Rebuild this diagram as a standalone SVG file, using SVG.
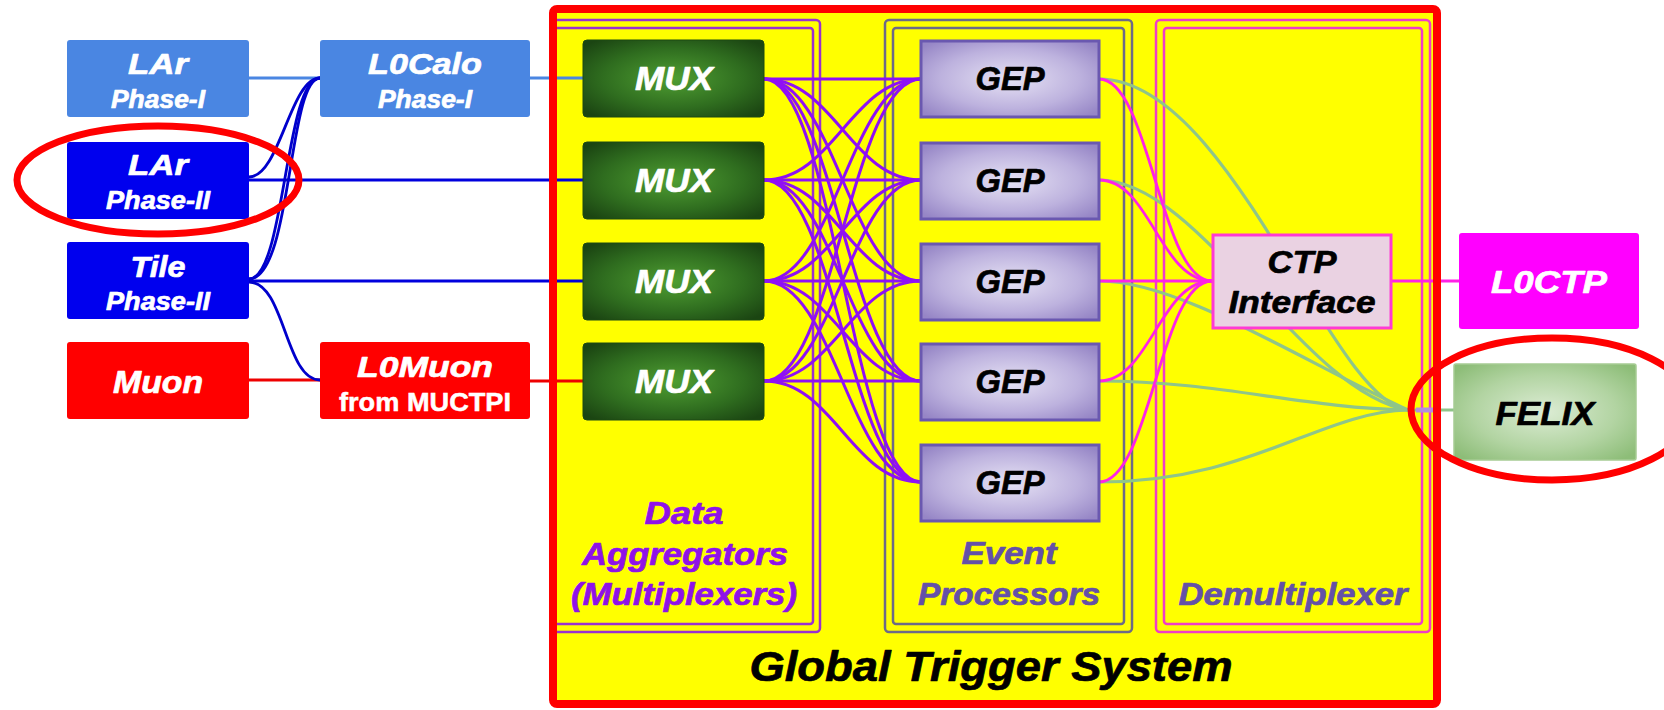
<svg xmlns="http://www.w3.org/2000/svg" width="1664" height="710" viewBox="0 0 1664 710">
<defs>
<radialGradient id="muxG" cx="50%" cy="50%" r="65%">
<stop offset="0" stop-color="#4f9e32"/><stop offset="0.6" stop-color="#2f6d1f"/><stop offset="1" stop-color="#1b4512"/>
</radialGradient>
<radialGradient id="gepG" cx="50%" cy="50%" r="65%">
<stop offset="0" stop-color="#e6e2f4"/><stop offset="0.6" stop-color="#bdb2de"/><stop offset="1" stop-color="#9686c6"/>
</radialGradient>
<radialGradient id="felG" cx="50%" cy="50%" r="65%">
<stop offset="0" stop-color="#dcecd4"/><stop offset="0.6" stop-color="#b2d4a2"/><stop offset="1" stop-color="#8dbd78"/>
</radialGradient>
<style>
.t{font-family:"Liberation Sans",Arial,sans-serif;font-weight:bold;font-style:italic;text-anchor:middle;stroke-width:0.7;stroke-linejoin:round}
.u{font-family:"Liberation Sans",Arial,sans-serif;font-weight:bold;text-anchor:middle;stroke-width:0.5}
.w{fill:#fff;stroke:#fff}.k{fill:#000;stroke:#000}
.pa{fill:#8f12e8;stroke:#8f12e8}.pe{fill:#6450a8;stroke:#6450a8}
.lb{fill:#4a86e2}.db{fill:#0000ee}.rd{fill:#ff0000}
.mux{fill:url(#muxG);stroke:#1d4a13;stroke-width:1}
.gep{fill:url(#gepG);stroke:#6a58b0;stroke-width:3}
.mx{fill:none;stroke:#8f10f5;stroke-width:3}
.gr{fill:none;stroke:#8fc589;stroke-width:3.2}
.mg{fill:none;stroke:#ff22e6;stroke-width:2.8}
.fa{fill:none;stroke:#9a30d0;stroke-width:2.5}
.fe{fill:none;stroke:#6d6a88;stroke-width:2.5}
.fd{fill:none;stroke:#f03cc8;stroke-width:2.5}
.ring{fill:none;stroke:#ff0000;stroke-width:7}
</style>
</defs>
<rect width="1664" height="710" fill="#fff"/>

<g id="global-trigger-system">
<rect x="553" y="9" width="884" height="695" rx="4" fill="#ffff00"/>
<g id="frame-aggregators">
<rect class="fa" x="551" y="20" width="269" height="612" rx="4"/>
<rect class="fa" x="551" y="28" width="262" height="596" rx="3"/>
<text class="t pa" x="684" y="524" font-size="31" textLength="79" lengthAdjust="spacingAndGlyphs">Data</text>
<text class="t pa" x="685" y="565" font-size="31" textLength="206" lengthAdjust="spacingAndGlyphs">Aggregators</text>
<text class="t pa" x="684" y="605" font-size="31" textLength="226" lengthAdjust="spacingAndGlyphs">(Multiplexers)</text>
</g>
<g id="frame-event-processors">
<rect class="fe" x="885" y="20" width="247" height="612" rx="4"/>
<rect class="fe" x="893" y="28" width="231" height="596" rx="3"/>
<text class="t pe" x="1009" y="564" font-size="31" textLength="95" lengthAdjust="spacingAndGlyphs">Event</text>
<text class="t pe" x="1009" y="605" font-size="31" textLength="182" lengthAdjust="spacingAndGlyphs">Processors</text>
</g>
<g id="frame-demultiplexer">
<rect class="fd" x="1156" y="20" width="274" height="612" rx="4"/>
<rect class="fd" x="1164" y="28" width="258" height="596" rx="3"/>
<text class="t pe" x="1293" y="605" font-size="31" textLength="229" lengthAdjust="spacingAndGlyphs">Demultiplexer</text>
</g>
<text class="t k" x="991" y="681" font-size="42" textLength="483" lengthAdjust="spacingAndGlyphs">Global Trigger System</text>
</g>

<g id="connectors">
<line x1="249" y1="78" x2="320" y2="78" stroke="#4a86e2" stroke-width="3"/>
<line x1="530" y1="78" x2="584" y2="78" stroke="#4a86e2" stroke-width="3"/>
<line x1="249" y1="180" x2="584" y2="180" stroke="#0000dd" stroke-width="3"/>
<line x1="249" y1="281" x2="584" y2="281" stroke="#0000dd" stroke-width="3"/>
<line x1="249" y1="380" x2="320" y2="380" stroke="#ee0000" stroke-width="3"/>
<line x1="530" y1="381" x2="584" y2="381" stroke="#ee0000" stroke-width="3"/>
<g fill="none" stroke="#0000cc" stroke-width="2.8">
<path d="M249,177 C280,177 290,78 320,78"/>
<path d="M249,279 C285,279 285,78 320,78"/>
<path d="M249,279 C292,279 288,78 320,78"/>
<path d="M249,282 C285,282 285,380 320,380"/>
</g>
<g>
<path class="mx" d="M764,79 C834,79 851,79 921,79"/>
<path class="mx" d="M764,79 C834,79 851,180 921,180"/>
<path class="mx" d="M764,79 C834,79 851,281 921,281"/>
<path class="mx" d="M764,79 C834,79 851,381 921,381"/>
<path class="mx" d="M764,79 C834,79 851,482 921,482"/>
<path class="mx" d="M764,180 C834,180 851,79 921,79"/>
<path class="mx" d="M764,180 C834,180 851,180 921,180"/>
<path class="mx" d="M764,180 C834,180 851,281 921,281"/>
<path class="mx" d="M764,180 C834,180 851,381 921,381"/>
<path class="mx" d="M764,180 C834,180 851,482 921,482"/>
<path class="mx" d="M764,281 C834,281 851,79 921,79"/>
<path class="mx" d="M764,281 C834,281 851,180 921,180"/>
<path class="mx" d="M764,281 C834,281 851,281 921,281"/>
<path class="mx" d="M764,281 C834,281 851,381 921,381"/>
<path class="mx" d="M764,281 C834,281 851,482 921,482"/>
<path class="mx" d="M764,381 C834,381 851,79 921,79"/>
<path class="mx" d="M764,381 C834,381 851,180 921,180"/>
<path class="mx" d="M764,381 C834,381 851,281 921,281"/>
<path class="mx" d="M764,381 C834,381 851,381 921,381"/>
<path class="mx" d="M764,381 C834,381 851,482 921,482"/>
</g>
<path class="gr" d="M1099,79 C1230,79 1330,400 1408,410"/>
<path class="gr" d="M1099,180 C1200,180 1300,390 1408,410"/>
<path class="gr" d="M1099,281 C1180,281 1300,360 1408,410"/>
<path class="gr" d="M1099,381 C1220,381 1300,408 1408,410"/>
<path class="gr" d="M1099,482 C1250,482 1320,412 1408,410"/>
<path class="gr" d="M1408,410 L1454,410"/>
<line x1="1416" y1="410" x2="1433" y2="410" stroke="#b48ee0" stroke-width="5"/>
<path class="mg" d="M1099,79 C1150,79 1160,281 1212,281"/>
<path class="mg" d="M1099,180 C1150,180 1160,281 1212,281"/>
<path class="mg" d="M1099,281 L1212,281"/>
<path class="mg" d="M1099,381 C1150,381 1160,281 1212,281"/>
<path class="mg" d="M1099,482 C1150,482 1160,281 1212,281"/>
<path class="mg" d="M1392,281 L1459,281" stroke-width="3"/>
</g>

<g id="lar-phase1"><rect class="lb" x="67" y="40" width="182" height="77" rx="3"/>
<text class="t w" x="158" y="74" font-size="30" textLength="60" lengthAdjust="spacingAndGlyphs">LAr</text>
<text class="t w" x="158" y="108" font-size="25" textLength="94" lengthAdjust="spacingAndGlyphs">Phase-I</text></g>
<g id="lar-phase2"><rect class="db" x="67" y="142" width="182" height="77" rx="3"/>
<text class="t w" x="158" y="175" font-size="30" textLength="60" lengthAdjust="spacingAndGlyphs">LAr</text>
<text class="t w" x="158" y="209" font-size="25" textLength="104" lengthAdjust="spacingAndGlyphs">Phase-II</text></g>
<g id="tile-phase2"><rect class="db" x="67" y="242" width="182" height="77" rx="3"/>
<text class="t w" x="158" y="277" font-size="30" textLength="55" lengthAdjust="spacingAndGlyphs">Tile</text>
<text class="t w" x="158" y="310" font-size="25" textLength="104" lengthAdjust="spacingAndGlyphs">Phase-II</text></g>
<g id="muon"><rect class="rd" x="67" y="342" width="182" height="77" rx="3"/>
<text class="t w" x="158" y="393" font-size="32" textLength="90" lengthAdjust="spacingAndGlyphs">Muon</text></g>
<g id="l0calo"><rect class="lb" x="320" y="40" width="210" height="77" rx="3"/>
<text class="t w" x="425" y="74" font-size="30" textLength="114" lengthAdjust="spacingAndGlyphs">L0Calo</text>
<text class="t w" x="425" y="108" font-size="25" textLength="94" lengthAdjust="spacingAndGlyphs">Phase-I</text></g>
<g id="l0muon"><rect class="rd" x="320" y="342" width="210" height="77" rx="3"/>
<text class="t w" x="425" y="377" font-size="29" textLength="136" lengthAdjust="spacingAndGlyphs">L0Muon</text>
<text class="u w" x="425" y="411" font-size="25" textLength="172" lengthAdjust="spacingAndGlyphs">from MUCTPI</text></g>

<g id="mux1"><rect class="mux" x="583" y="40" width="181" height="77" rx="4"/><text class="t w" x="674" y="90" font-size="33" textLength="78" lengthAdjust="spacingAndGlyphs">MUX</text></g>
<g id="mux2"><rect class="mux" x="583" y="142" width="181" height="77" rx="4"/><text class="t w" x="674" y="192" font-size="33" textLength="78" lengthAdjust="spacingAndGlyphs">MUX</text></g>
<g id="mux3"><rect class="mux" x="583" y="243" width="181" height="77" rx="4"/><text class="t w" x="674" y="293" font-size="33" textLength="78" lengthAdjust="spacingAndGlyphs">MUX</text></g>
<g id="mux4"><rect class="mux" x="583" y="343" width="181" height="77" rx="4"/><text class="t w" x="674" y="393" font-size="33" textLength="78" lengthAdjust="spacingAndGlyphs">MUX</text></g>

<g id="gep1"><rect class="gep" x="921" y="41" width="178" height="76"/><text class="t k" x="1010" y="90" font-size="33" textLength="69" lengthAdjust="spacingAndGlyphs">GEP</text></g>
<g id="gep2"><rect class="gep" x="921" y="143" width="178" height="76"/><text class="t k" x="1010" y="192" font-size="33" textLength="69" lengthAdjust="spacingAndGlyphs">GEP</text></g>
<g id="gep3"><rect class="gep" x="921" y="244" width="178" height="76"/><text class="t k" x="1010" y="293" font-size="33" textLength="69" lengthAdjust="spacingAndGlyphs">GEP</text></g>
<g id="gep4"><rect class="gep" x="921" y="344" width="178" height="76"/><text class="t k" x="1010" y="393" font-size="33" textLength="69" lengthAdjust="spacingAndGlyphs">GEP</text></g>
<g id="gep5"><rect class="gep" x="921" y="445" width="178" height="76"/><text class="t k" x="1010" y="494" font-size="33" textLength="69" lengthAdjust="spacingAndGlyphs">GEP</text></g>

<g id="ctp-interface"><rect x="1213" y="235" width="178" height="93" fill="#ead2e2" stroke="#ff3ad4" stroke-width="3"/>
<text class="t k" x="1302" y="273" font-size="32" textLength="69" lengthAdjust="spacingAndGlyphs">CTP</text>
<text class="t k" x="1302" y="313" font-size="32" textLength="147" lengthAdjust="spacingAndGlyphs">Interface</text></g>

<rect x="553" y="9" width="884" height="695" rx="4" fill="none" stroke="#ff0000" stroke-width="8"/>

<g id="l0ctp"><rect x="1459" y="233" width="180" height="96" rx="3" fill="#ff00ff"/>
<text class="t w" x="1549" y="293" font-size="31" textLength="116" lengthAdjust="spacingAndGlyphs">L0CTP</text></g>
<g id="felix"><rect x="1454" y="364" width="182" height="96" rx="2" fill="url(#felG)" stroke="#a6cc94" stroke-width="1.5"/>
<text class="t k" x="1545" y="425" font-size="34" textLength="99" lengthAdjust="spacingAndGlyphs">FELIX</text></g>

<g id="highlights">
<ellipse class="ring" cx="158" cy="180" rx="141" ry="54"/>
<ellipse class="ring" cx="1552" cy="409" rx="141" ry="71"/>
</g>
</svg>
